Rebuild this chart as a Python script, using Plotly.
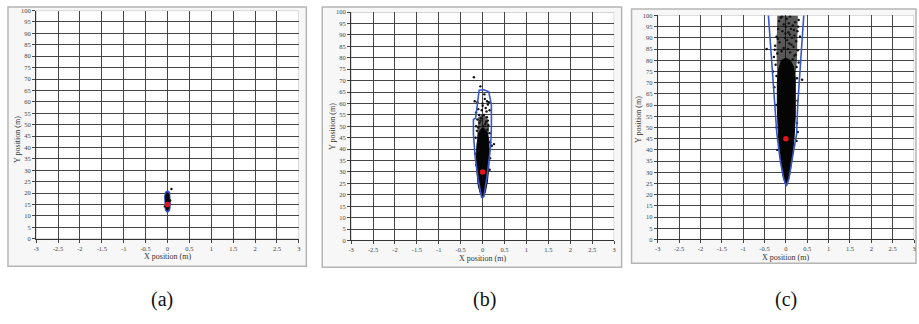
import plotly.graph_objects as go

# ---------------- data ----------------
x_tick_vals = [-3, -2.5, -2, -1.5, -1, -0.5, 0, 0.5, 1, 1.5, 2, 2.5, 3]
x_tick_text = ["-3", "-2.5", "-2", "-1.5", "-1", "-0.5", "0", "0.5", "1", "1.5", "2", "2.5", "3"]
y_tick_vals = list(range(0, 101, 5))
y_tick_text = [str(v) for v in y_tick_vals]
captions = ["(a)", "(b)", "(c)"]

# panel (a)
a_center_x = [0.0]
a_center_y = [15.0]
a_env_x = [0.0, 0.045, 0.062, 0.062, 0.045, 0.0, -0.045, -0.062, -0.062, -0.045, 0.0]
a_env_y = [11.6, 12.6, 15.0, 18.4, 20.3, 21.0, 20.3, 18.4, 15.0, 12.6, 11.6]
a_core_x = [0.0, 0.03, 0.042, 0.042, 0.03, 0.0, -0.03, -0.042, -0.042, -0.03, 0.0]
a_core_y = [12.4, 13.2, 15.0, 18.2, 19.6, 20.2, 19.6, 18.2, 15.0, 13.2, 12.4]
a_dot_x = [0.09, 0.06, -0.06]
a_dot_y = [21.8, 16.8, 14.2]

# panel (b)
b_center_x = [0.0]
b_center_y = [30.0]
b_env_x = [-0.02, -0.1, -0.17, -0.21, -0.21, -0.16, -0.08, 0.03, 0.14, 0.2, 0.2, 0.18, 0.11, 0.03, -0.02]
b_env_y = [18.6, 26.5, 36.5, 46.6, 53.0, 53.6, 65.8, 66.0, 65.1, 59.4, 49.4, 40.8, 29.4, 19.3, 18.6]
b_core_x = [0.0, 0.06, 0.11, 0.14, 0.15, 0.14, 0.1, 0.04, -0.03, -0.09, -0.13, -0.14, -0.13, -0.1, -0.05, 0.0]
b_core_y = [19.0, 21.0, 26.0, 32.0, 39.0, 44.0, 47.5, 49.0, 49.0, 47.0, 42.0, 36.0, 30.0, 24.0, 20.5, 19.0]
b_haze_x = [-0.13, -0.04, 0.05, 0.13, 0.15, 0.1, 0.0, -0.1, -0.13]
b_haze_y = [44.0, 49.0, 49.0, 45.0, 50.0, 54.0, 55.5, 54.0, 44.0]
b_dot_x = [-0.2, -0.05, -0.18, -0.12, 0.05, 0.1, 0.12, 0.07, -0.02, -0.15, 0.0, 0.16, -0.08, 0.03,
           0.1, -0.12, -0.05, 0.08, 0.13, -0.15, -0.1, 0.02, 0.16, -0.16, 0.17, 0.21, 0.26, -0.17,
           0.17, -0.15, 0.16, 0.09, -0.1, 0.04, 0.14, -0.03, 0.06, -0.07, 0.11, -0.13, 0.0, 0.12]
b_dot_y = [71.5, 67.5, 61.0, 60.5, 62.0, 61.0, 59.5, 58.0, 57.0, 56.0, 59.0, 57.0, 55.0, 55.0,
           54.0, 53.0, 52.5, 52.0, 50.5, 50.0, 49.5, 50.0, 47.0, 45.0, 43.0, 41.5, 42.2, 38.0,
           36.0, 33.0, 31.0, 56.5, 57.5, 64.0, 60.5, 53.5, 51.0, 51.5, 48.5, 48.0, 60.0, 52.5]

# panel (c)
c_center_x = [0.0]
c_center_y = [45.0]
c_env_x = [-0.42, -0.32, -0.25, -0.21, -0.13, -0.05, 0.01, 0.07, 0.14, 0.25, 0.28, 0.33, 0.43]
c_env_y = [103.0, 76.0, 61.0, 47.0, 35.0, 27.0, 23.8, 27.0, 35.0, 47.0, 61.0, 76.0, 103.0]
c_core_x = [0.01, 0.08, 0.14, 0.19, 0.22, 0.23, 0.22, 0.18, 0.1, 0.0, -0.1, -0.17, -0.2, -0.2, -0.17, -0.12, -0.06, 0.01]
c_core_y = [24.0, 28.0, 35.0, 45.0, 55.0, 65.0, 72.0, 77.0, 80.0, 81.0, 80.0, 76.0, 70.0, 58.0, 45.0, 35.0, 28.0, 24.0]
c_haze_x = [-0.2, -0.1, 0.0, 0.1, 0.22, 0.26, 0.27, 0.28, -0.2, -0.22, -0.2]
c_haze_y = [70.0, 80.0, 81.0, 80.0, 72.0, 80.0, 90.0, 100.0, 100.0, 85.0, 70.0]
c_dot_x = [-0.12, 0.02, 0.1, 0.22, -0.05, 0.3, 0.16, -0.18, -0.08, 0.06, 0.2, -0.22, 0.12, -0.02,
           0.27, 0.0, -0.15, 0.08, 0.18, -0.05, 0.24, -0.25, 0.03, 0.14, -0.2, -0.1, 0.1, 0.2,
           0.28, -0.28, 0.05, 0.16, -0.24, 0.25, -0.22, 0.26, 0.3, -0.3, 0.38, -0.27, 0.27, -0.23,
           0.26, -0.22, 0.25, -0.2, 0.28, -0.45, -0.26, 0.33, -0.16, 0.07, 0.19, -0.09, 0.13, -0.01,
           0.23, -0.19, 0.09, 0.29]
c_dot_y = [99.0, 98.5, 99.5, 97.0, 96.0, 98.0, 95.5, 94.0, 93.0, 92.5, 91.0, 90.5, 94.0, 90.0,
           93.0, 95.0, 88.0, 87.5, 86.0, 85.5, 88.5, 86.5, 89.0, 90.0, 83.0, 84.0, 83.5, 82.0,
           84.5, 81.5, 85.0, 80.5, 78.0, 77.0, 73.0, 72.0, 79.0, 75.0, 71.3, 68.0, 62.0, 60.0,
           52.0, 50.0, 44.0, 40.0, 48.0, 85.0, 84.7, 90.5, 97.5, 96.5, 93.5, 99.5, 87.0, 92.0,
           82.5, 89.5, 91.5, 95.0]

# ---------------- layout geometry (pixels of the 919x324 page) ----------------
W, H = 919, 324
plots_px = [  # left, right, top, bottom of each plotting area
    (33.3, 297.5, 6.7, 240.0),
    (350.0, 614.5, 8.3, 241.7),
    (658.3, 916.0, 11.7, 240.7),
]
frames_px = [(5, 305, 3, 268), (321, 622, 3, 269), (632, 918, 5, 265)]
xtitle_py = [258.5, 260, 259.5]
ytitle_px = [(14, 138), (331.5, 125), (639, 118)]
caption_px = [(160, 302), (484, 302), (787, 302)]
SERIF = "Liberation Serif, Times New Roman, DejaVu Serif, serif"


def px2paper_x(v):
    return v / W


def px2paper_y(v):
    return 1 - v / H


fig = go.Figure()

panels = [
    dict(env=(a_env_x, a_env_y), core=(a_core_x, a_core_y), haze=None,
         dots=(a_dot_x, a_dot_y), center=(a_center_x, a_center_y)),
    dict(env=(b_env_x, b_env_y), core=(b_core_x, b_core_y), haze=(b_haze_x, b_haze_y),
         dots=(b_dot_x, b_dot_y), center=(b_center_x, b_center_y)),
    dict(env=(c_env_x, c_env_y), core=(c_core_x, c_core_y), haze=(c_haze_x, c_haze_y),
         dots=(c_dot_x, c_dot_y), center=(c_center_x, c_center_y)),
]

layout_axes = {}
shapes = []
annotations = []
for i, p in enumerate(panels):
    n = "" if i == 0 else str(i + 1)
    xa, ya = "x" + n, "y" + n
    if i == 0:
        fig.add_trace(go.Scatter(x=p["env"][0], y=p["env"][1], mode="lines", fill="toself",
                                 fillcolor="#2a3fb8", line=dict(color="#3550c8", width=1.5),
                                 xaxis=xa, yaxis=ya, showlegend=False, hoverinfo="skip"))
    if p["haze"] is not None:
        fig.add_trace(go.Scatter(x=p["haze"][0], y=p["haze"][1], mode="lines", fill="toself",
                                 fillcolor="rgba(10,10,10,0.68)", line=dict(width=0),
                                 xaxis=xa, yaxis=ya, showlegend=False, hoverinfo="skip"))
    fig.add_trace(go.Scatter(x=p["core"][0], y=p["core"][1], mode="lines", fill="toself",
                             fillcolor="#050505", line=dict(color="#050505", width=1),
                             xaxis=xa, yaxis=ya, showlegend=False, hoverinfo="skip"))
    fig.add_trace(go.Scatter(x=p["dots"][0], y=p["dots"][1], mode="markers",
                             marker=dict(color="#111111", size=2.4),
                             xaxis=xa, yaxis=ya, showlegend=False, hoverinfo="skip"))
    if i > 0:
        fig.add_trace(go.Scatter(x=p["env"][0], y=p["env"][1], mode="lines",
                                 line=dict(color="#3a55c8", width=1.6),
                                 xaxis=xa, yaxis=ya, showlegend=False, hoverinfo="skip"))
    fig.add_trace(go.Scatter(x=p["center"][0], y=p["center"][1], mode="markers",
                             marker=dict(color="#e8141c", size=5.5),
                             xaxis=xa, yaxis=ya, showlegend=False, hoverinfo="skip"))

    l, r, t, b = plots_px[i]
    axis_common = dict(showgrid=True, gridcolor="#454545", gridwidth=1.3,
                       zeroline=False, showline=True, linecolor="#333333", linewidth=1,
                       ticks="outside", ticklen=3, tickcolor="#444444", tickwidth=1,
                       tickfont=dict(family=SERIF, size=6.5, color="#444444"),
                       fixedrange=True)
    layout_axes["xaxis" + n] = dict(axis_common, domain=[px2paper_x(l), px2paper_x(r)],
                                    range=[-3, 3], anchor=ya, tickmode="array",
                                    tickvals=x_tick_vals, ticktext=x_tick_text)
    layout_axes["yaxis" + n] = dict(axis_common, domain=[px2paper_y(b), px2paper_y(t)],
                                    range=[0, 100], anchor=xa, tickmode="array",
                                    tickvals=y_tick_vals, ticktext=y_tick_text)
    shapes.append(dict(type="rect", xref=xa, yref=ya, x0=-3, x1=3, y0=0, y1=100,
                       line=dict(color="#bdbdbd", width=1), layer="below",
                       fillcolor="white"))
    fl, fr, ft, fb = frames_px[i]
    shapes.append(dict(type="rect", xref="paper", yref="paper",
                       x0=px2paper_x(fl), x1=px2paper_x(fr),
                       y0=px2paper_y(fb), y1=px2paper_y(ft),
                       line=dict(color="#b5b5b5", width=1.5), fillcolor="#f7f7f7", layer="below"))
    annotations.append(dict(text="X position (m)", xref="paper", yref="paper",
                            x=px2paper_x((l + r) / 2), y=px2paper_y(xtitle_py[i]),
                            showarrow=False, xanchor="center", yanchor="middle",
                            font=dict(family=SERIF, size=8, color="#333333")))
    annotations.append(dict(text="Y position (m)", xref="paper", yref="paper",
                            x=px2paper_x(ytitle_px[i][0]), y=px2paper_y(ytitle_px[i][1]),
                            showarrow=False, xanchor="center", yanchor="middle", textangle=-90,
                            font=dict(family=SERIF, size=8, color="#333333")))
    annotations.append(dict(text=captions[i], xref="paper", yref="paper",
                            x=px2paper_x(caption_px[i][0]), y=px2paper_y(caption_px[i][1]),
                            showarrow=False, xanchor="center", yanchor="middle",
                            font=dict(family=SERIF, size=20, color="#111111")))

fig.update_layout(
    width=W, height=H,
    margin=dict(l=0, r=0, t=0, b=0),
    paper_bgcolor="white",
    plot_bgcolor="rgba(0,0,0,0)",
    shapes=shapes,
    annotations=annotations,
    showlegend=False,
    **layout_axes,
)

fig.write_html(
    "out.html",
    config=dict(displayModeBar=False),
    post_script="document.body.style.margin='0';document.body.style.overflow='hidden';",
)
